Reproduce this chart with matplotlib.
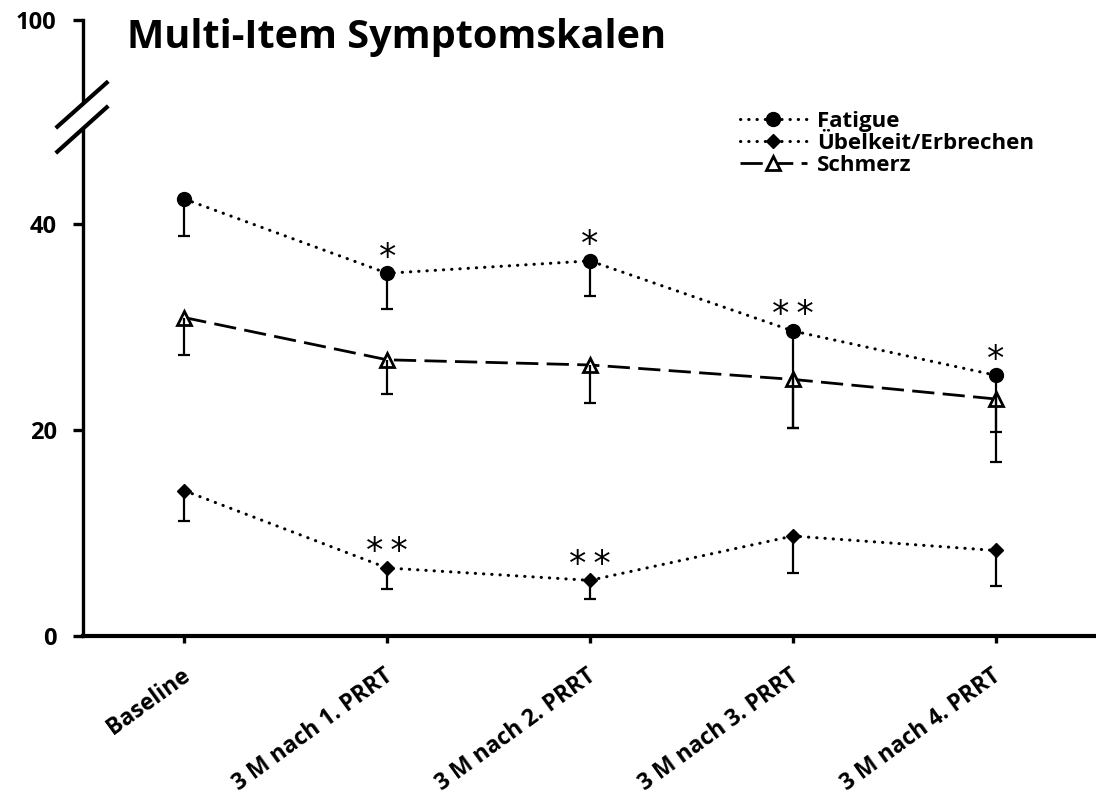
import numpy as np
import matplotlib
matplotlib.use("Agg")
import matplotlib.pyplot as plt
from matplotlib.lines import Line2D
from matplotlib.transforms import ScaledTranslation

plt.rcParams['font.family'] = ['Open Sans', 'DejaVu Sans']

categories = ["Baseline", "3 M nach 1. PRRT", "3 M nach 2. PRRT",
              "3 M nach 3. PRRT", "3 M nach 4. PRRT"]

fatigue = [42.4, 35.2, 36.4, 29.6, 25.3]
fatigue_err = [3.6, 3.5, 3.4, 9.4, 5.5]
fatigue_sig = ["", "*", "*", "**", "*"]

uebelkeit = [14.1, 6.6, 5.4, 9.7, 8.3]
uebelkeit_err = [2.9, 2.0, 1.8, 3.6, 3.4]
uebelkeit_sig = ["", "**", "**", "", ""]

schmerz = [30.9, 26.8, 26.3, 24.9, 23.0]
schmerz_err = [3.6, 3.3, 3.7, 4.7, 6.1]

W, H = 1096, 794
fig = plt.figure(figsize=(W / 100, H / 100), dpi=100)

def px(x0, y0, x1, y1):
    # pixel box (top-left origin) -> figure fraction rect
    return [x0 / W, 1 - y1 / H, (x1 - x0) / W, (y1 - y0) / H]

ax = fig.add_axes(px(83, 130, 1097, 636))
ax_top = fig.add_axes(px(83, 20, 1097, 100))

x = np.arange(len(categories))
dot = (0, (0.1, 2.6))

ax.plot(x, fatigue, linestyle=dot, dash_capstyle='round', lw=2.2, color='black',
        marker='o', markersize=10, zorder=3, label='Fatigue')
ax.plot(x, uebelkeit, linestyle=dot, dash_capstyle='round', lw=2.2, color='black',
        marker='D', markersize=7.5, zorder=3, label='Übelkeit/Erbrechen')
ax.plot(x, schmerz, linestyle=(0, (8, 3)), lw=2, color='black',
        marker='^', markersize=10, markerfacecolor='white', markeredgewidth=2,
        zorder=3, label='Schmerz')

# only lower error bars
for vals, errs in [(fatigue, fatigue_err), (uebelkeit, uebelkeit_err), (schmerz, schmerz_err)]:
    lo = np.array(vals) - np.array(errs)
    ax.vlines(x, lo, vals, color='black', lw=1.6, zorder=4)
    ax.plot(x, lo, linestyle='none', marker='_', markersize=9, markeredgewidth=1.6,
            color='black', zorder=4)

for series, sig in [(fatigue, fatigue_sig), (uebelkeit, uebelkeit_sig)]:
    for xi, yi, s in zip(x, series, sig):
        if s:
            ax.annotate("\u2009".join(s), (xi, yi), xytext=(0, -1),
                        textcoords='offset points', ha='center', va='bottom',
                        fontsize=25, family='DejaVu Sans')

ax.set_xlim(-0.5, 4.5)
ax.set_ylim(0, 49.1)
ax.set_yticks([0, 20, 40])
ax.set_xticks(x)
ax.set_xticklabels(categories, rotation=36, ha='right', rotation_mode='anchor')
for sp in ['top', 'right']:
    ax.spines[sp].set_visible(False)
ax.spines['left'].set_linewidth(2.4)
ax.spines['bottom'].set_linewidth(3)
ax.tick_params(axis='y', length=7, width=2.4, pad=12, labelsize=17)
ax.tick_params(axis='x', length=5, width=2.4, pad=15, labelsize=16.5)
shift = ScaledTranslation(-4 / 100, 0, fig.dpi_scale_trans)
for lab in ax.get_xticklabels():
    lab.set_transform(lab.get_transform() + shift)
for lab in ax.get_yticklabels() + ax.get_xticklabels():
    lab.set_fontweight('bold')

ax_top.set_ylim(90, 100)
ax_top.set_xlim(-0.5, 4.5)
ax_top.set_yticks([100])
ax_top.set_xticks([])
for sp in ['top', 'right', 'bottom']:
    ax_top.spines[sp].set_visible(False)
ax_top.spines['left'].set_linewidth(2.4)
ax_top.tick_params(axis='y', length=7, width=2.4, pad=12, labelsize=17)
for lab in ax_top.get_yticklabels():
    lab.set_fontweight('bold')
ax_top.patch.set_visible(False)

# axis break slashes
for y0, y1 in [(126.7, 82.7), (151.7, 107.3)]:
    fig.add_artist(Line2D([57.3 / W, 106.7 / W], [1 - y0 / H, 1 - y1 / H],
                          color='black', lw=3, transform=fig.transFigure))

fig.text(127 / W, 1 - 48 / H, "Multi-Item Symptomskalen", fontsize=28.5,
         fontweight='bold', ha='left', va='baseline')

leg = ax.legend(loc='upper left', bbox_to_anchor=(740 / W, 1 - 111 / H),
                bbox_transform=fig.transFigure, frameon=False, fontsize=16,
                handlelength=3.0, handletextpad=0.45, labelspacing=0.04,
                borderpad=0, borderaxespad=0)
for t in leg.get_texts():
    t.set_fontweight('bold')

fig.savefig("out.png", dpi=100)
